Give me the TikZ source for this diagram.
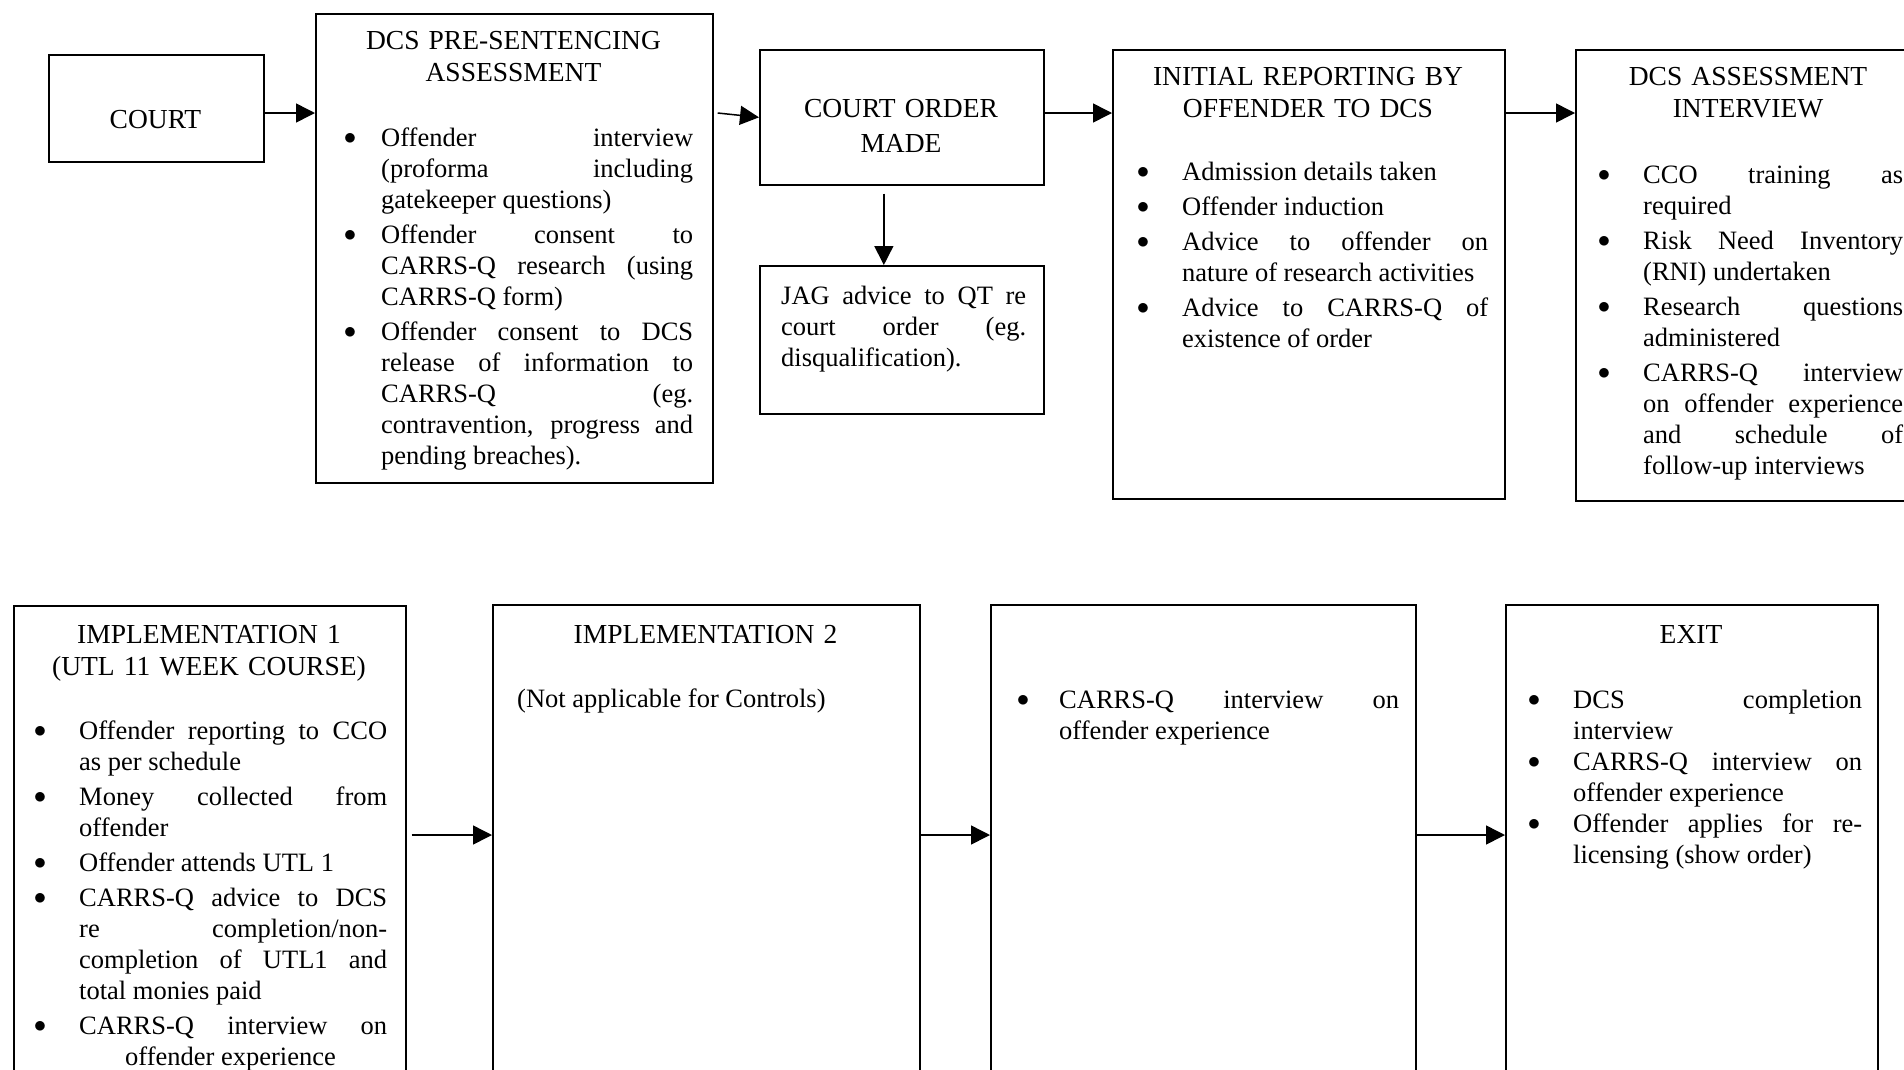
\documentclass[tikz,border=0pt]{standalone}
\usepackage{fontspec}
\setmainfont{Liberation Serif}
\usepackage{enumitem}
\usepackage{tikz}
\usetikzlibrary{calc,arrows.meta}
\setlist[itemize]{label=\raisebox{1.5pt}{$\bullet$}, leftmargin=55pt, labelsep=33pt, itemsep=4pt, parsep=0pt, topsep=0pt, partopsep=0pt}
\tolerance=10000
\hbadness=10000
\hyphenpenalty=10000
\tikzset{
	panel/.style={draw, line width=1.7pt, inner sep=0pt, anchor=north west},
	heading/.style={text width=#1, align=center, inner sep=0pt, anchor=base, font=\fontsize{27.5}{32}\selectfont},
	body/.style={text width=#1, align=justify, inner sep=0pt, anchor=base west, font=\fontsize{26.5}{31}\selectfont},
	bullets/.style={body=#1, yshift=30pt},
	flow/.style={line width=1.5pt, arrows={-Triangle[length=19pt,width=19pt]}}
	}

\begin{document}
\begin{tikzpicture}[x=1pt, y=-1pt]
	\useasboundingbox (0,0) rectangle (1904,1069);
	\coordinate (row1) at (0,113);
	\coordinate (row2) at (0,835);

	% top row
	\node[panel, minimum width=215pt, minimum height=107pt] (court) at (48,54) {};
	\node[heading=215pt] (courtlbl) at (155.5,128) {COURT};

	\node[panel, minimum width=397pt, minimum height=469pt] (pre) at (315,13) {};
	\node[heading=397pt] (prehead) at (513.5,49) {DCS PRE-SENTENCING\\ASSESSMENT};
	\node[bullets=367pt] (prelist) at (326,145) {%
		\begin{itemize}[labelsep=25pt]
			\item Offender interview\linebreak (proforma including\linebreak gatekeeper questions)
			\item Offender consent to\linebreak CARRS-Q research (using\linebreak CARRS-Q form)
			\item Offender consent to DCS\linebreak release of information to\linebreak CARRS-Q (eg.\linebreak contravention, progress and\linebreak pending breaches).
		\end{itemize}};

	\node[panel, minimum width=284pt, minimum height=135pt] (order) at (759,49) {};
	\node[heading=284pt] (orderlbl) at (901,117) {COURT ORDER\\[3pt]MADE};

	\node[panel, minimum width=284pt, minimum height=148pt] (jag) at (759,265) {};
	\node[body=245pt] (jagtext) at (781,304) {JAG advice to QT re\linebreak court order (eg.\linebreak disqualification).};

	\node[panel, minimum width=392pt, minimum height=449pt] (init) at (1112,49) {};
	\node[heading=392pt] (inithead) at (1308,85) {INITIAL REPORTING BY\\OFFENDER TO DCS};
	\node[bullets=361pt] (initlist) at (1127,179) {%
		\begin{itemize}
			\item Admission details taken
			\item Offender induction
			\item Advice to offender on\linebreak nature of research activities
			\item Advice to CARRS-Q of\linebreak existence of order
		\end{itemize}};

	\node[panel, minimum width=346pt, minimum height=451pt] (assess) at (1575,49) {};
	\node[heading=346pt] (assesshead) at (1748,85) {DCS ASSESSMENT\\INTERVIEW};
	\node[bullets=315pt] (assesslist) at (1588,182) {%
		\begin{itemize}
			\item CCO training as\linebreak required
			\item Risk Need Inventory\linebreak (RNI) undertaken
			\item Research questions\linebreak administered
			\item CARRS-Q interview\linebreak on offender experience\linebreak and schedule of\linebreak follow-up interviews
		\end{itemize}};

	% bottom row
	\node[panel, minimum width=392pt, minimum height=490pt] (implone) at (13,605) {};
	\node[heading=392pt] (implonehead) at (209,643) {IMPLEMENTATION 1\\(UTL 11 WEEK COURSE)};
	\node[bullets=363pt] (implonelist) at (24,738) {%
		\begin{itemize}
			\item Offender reporting to CCO\linebreak as per schedule
			\item Money collected from\linebreak offender
			\item Offender attends UTL 1
			\item CARRS-Q advice to DCS\linebreak re completion/non-\linebreak completion of UTL1 and\linebreak total monies paid
			\item CARRS-Q interview on\linebreak \hspace*{46pt}offender experience
		\end{itemize}};

	\node[panel, minimum width=427pt, minimum height=490pt] (impltwo) at (492,604) {};
	\node[heading=427pt] (impltwohead) at (705.5,643) {IMPLEMENTATION 2};
	\node[body=380pt] (impltwonote) at (517,707) {(Not applicable for Controls)};

	\node[panel, minimum width=425pt, minimum height=490pt] (follow) at (990,604) {};
	\node[bullets=395pt] (followlist) at (1004,707) {%
		\begin{itemize}[labelsep=30pt]
			\item CARRS-Q interview on\linebreak offender experience
		\end{itemize}};

	\node[panel, minimum width=372pt, minimum height=490pt] (exit) at (1505,604) {};
	\node[heading=372pt] (exithead) at (1691,643) {EXIT};
	\node[bullets=344pt] (exitlist) at (1518,707) {%
		\begin{itemize}[itemsep=0pt]
			\item DCS completion\linebreak interview
			\item CARRS-Q interview on\linebreak offender experience
			\item Offender applies for re-\linebreak licensing (show order)
		\end{itemize}};

	% connectors
	\draw[flow] (court.east |- row1) -- (pre.west |- row1);
	\draw[flow] ([xshift=4pt]pre.east |- row1) -- (order.west);
	\draw[flow] ([xshift=-18pt,yshift=-8pt]order.south) -- ([xshift=-18pt]jag.north);
	\draw[flow] (order.east |- row1) -- (init.west |- row1);
	\draw[flow] (init.east |- row1) -- (assess.west |- row1);
	\draw[flow] ([xshift=5pt]implone.east |- row2) -- (impltwo.west |- row2);
	\draw[flow] (impltwo.east |- row2) -- (follow.west |- row2);
	\draw[flow] (follow.east |- row2) -- (exit.west |- row2);
\end{tikzpicture}
\end{document}
